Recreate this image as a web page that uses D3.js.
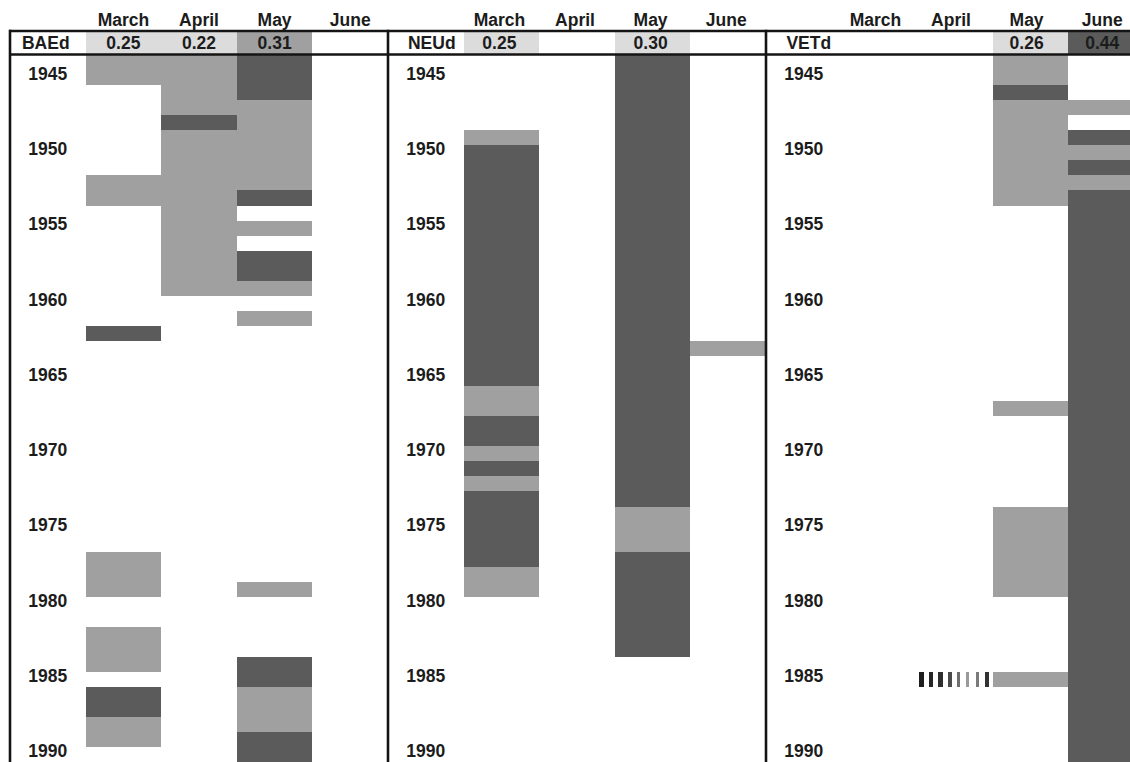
<!DOCTYPE html>
<html>
<head>
<meta charset="utf-8">
<script src="https://cdn.jsdelivr.net/npm/d3@7"></script>
<style>
  html, body { margin: 0; padding: 0; background: #fff; overflow: hidden; }
  text { font-family: "Liberation Sans", Arial, Helvetica, sans-serif; font-weight: bold; fill: #1c1c1c; }
  rect { shape-rendering: crispEdges; }
</style>
</head>
<body>
<div class="chart"></div>
<script>
/* data */
const months = ['March', 'April', 'May', 'June'];
const stations = ['BAEd', 'NEUd', 'VETd'];
// header values per station (null = empty cell)
const baedHeader = [0.25, 0.22, 0.31, null];
const neudHeader = [0.25, null, 0.30, null];
const vetdHeader = [null, null, 0.26, 0.44];
const yearTicks = [1945, 1950, 1955, 1960, 1965, 1970, 1975, 1980, 1985, 1990];
const firstYear = 1944, lastYear = 1990;

// runs: [month, from year, to year (inclusive), kind]  L = light, D = dark, H = hatched
const baedRuns = [
  ['March', 1944, 1945, 'L'], ['March', 1952, 1953, 'L'], ['March', 1962, 1962, 'D'],
  ['March', 1977, 1979, 'L'], ['March', 1982, 1984, 'L'], ['March', 1986, 1987, 'D'],
  ['March', 1988, 1989, 'L'],
  ['April', 1944, 1947, 'L'], ['April', 1948, 1948, 'D'], ['April', 1949, 1959, 'L'],
  ['May', 1944, 1946, 'D'], ['May', 1947, 1952, 'L'], ['May', 1953, 1953, 'D'],
  ['May', 1955, 1955, 'L'], ['May', 1957, 1958, 'D'], ['May', 1959, 1959, 'L'],
  ['May', 1961, 1961, 'L'], ['May', 1979, 1979, 'L'], ['May', 1984, 1985, 'D'],
  ['May', 1986, 1988, 'L'], ['May', 1989, 1990, 'D']
];
const neudRuns = [
  ['March', 1949, 1949, 'L'], ['March', 1950, 1965, 'D'], ['March', 1966, 1967, 'L'],
  ['March', 1968, 1969, 'D'], ['March', 1970, 1970, 'L'], ['March', 1971, 1971, 'D'],
  ['March', 1972, 1972, 'L'], ['March', 1973, 1977, 'D'], ['March', 1978, 1979, 'L'],
  ['May', 1944, 1973, 'D'], ['May', 1974, 1976, 'L'], ['May', 1977, 1983, 'D'],
  ['June', 1963, 1963, 'L']
];
const vetdRuns = [
  ['April', 1985, 1985, 'H'],
  ['May', 1944, 1945, 'L'], ['May', 1946, 1946, 'D'], ['May', 1947, 1953, 'L'],
  ['May', 1967, 1967, 'L'], ['May', 1974, 1979, 'L'], ['May', 1985, 1985, 'L'],
  ['June', 1947, 1947, 'L'], ['June', 1949, 1949, 'D'], ['June', 1950, 1950, 'L'],
  ['June', 1951, 1951, 'D'], ['June', 1952, 1952, 'L'], ['June', 1953, 1990, 'D']
];

const headers = [baedHeader, neudHeader, vetdHeader];
const runs = [baedRuns, neudRuns, vetdRuns];

/* layout */
const width = 1130, height = 762;
const left = 10;            // left border
const panelW = 378;         // width of one station panel
const headTop = 31, headBottom = 54.5;
const rowH = 15.05;
const fontSize = 17.5;
const textShift = [0, -2, -4];   // month / value text drifts slightly per panel
const nameShift = [-2, 6, 5];

const barColor = { L: '#a0a0a0', D: '#5b5b5b' };
const headColor = d3.scaleThreshold().domain([0.305, 0.4]).range(['#dcdcdc', '#a0a0a0', '#5b5b5b']);

const y = d3.scaleLinear()
  .domain([firstYear, lastYear + 1])
  .range([55, 55 + rowH * (lastYear + 1 - firstYear)]);

const x = d3.scaleBand()
  .domain(['label'].concat(months))
  .range([0, panelW])
  .padding(0);

const svg = d3.select('.chart')
  .append('svg')
  .attr('width', width)
  .attr('height', height);

stations.forEach((name, p) => {
  const g = svg.append('g')
    .attr('transform', `translate(${left + p * panelW}, 0)`);

  // bars
  g.selectAll('rect.bar')
    .data(runs[p].filter(r => r[3] !== 'H'))
    .join('rect')
    .attr('class', 'bar')
    .attr('x', d => x(d[0]))
    .attr('width', x.bandwidth())
    .attr('y', d => y(d[1]))
    .attr('height', d => y(d[2] + 1) - y(d[1]))
    .attr('fill', d => barColor[d[3]]);

  // hatched cells (striped)
  const stripeGray = ['#1e1e1e', '#262626', '#2e2e2e', '#4a4a4a', '#6e6e6e', '#9a9a9a', '#7a7a7a', '#333'];
  const stripeW = [5, 4.6, 4.6, 4, 3.4, 2.8, 2.8, 3.6];
  runs[p].filter(r => r[3] === 'H').forEach(r => {
    g.selectAll(null)
      .data(d3.range(8))
      .join('rect')
      .attr('x', i => x(r[0]) + 2 + i * x.bandwidth() / 8)
      .attr('width', i => stripeW[i])
      .attr('y', y(r[1]))
      .attr('height', y(r[2] + 1) - y(r[1]))
      .attr('fill', i => stripeGray[i]);
  });

  // header cells
  const hv = headers[p].map((v, i) => ({ month: months[i], v })).filter(d => d.v !== null);
  g.selectAll('rect.head')
    .data(hv)
    .join('rect')
    .attr('class', 'head')
    .attr('x', d => x(d.month))
    .attr('width', x.bandwidth())
    .attr('y', headTop)
    .attr('height', headBottom - headTop)
    .attr('fill', d => headColor(d.v));

  g.selectAll('text.val')
    .data(hv)
    .join('text')
    .attr('class', 'val')
    .attr('x', d => x(d.month) + x.bandwidth() / 2 + textShift[p])
    .attr('y', 49)
    .attr('text-anchor', 'middle')
    .style('font-size', fontSize + 'px')
    .text(d => d.v.toFixed(2));

  // month names
  g.selectAll('text.month')
    .data(months)
    .join('text')
    .attr('class', 'month')
    .attr('x', d => x(d) + x.bandwidth() / 2 + textShift[p])
    .attr('y', 26)
    .attr('text-anchor', 'middle')
    .style('font-size', fontSize + 'px')
    .text(d => d);

  // station name
  g.append('text')
    .attr('x', x.bandwidth() / 2 + nameShift[p])
    .attr('y', 49)
    .attr('text-anchor', 'middle')
    .style('font-size', fontSize + 'px')
    .text(name);

  // year labels
  g.selectAll('text.year')
    .data(yearTicks)
    .join('text')
    .attr('class', 'year')
    .attr('x', x.bandwidth() / 2)
    .attr('y', d => y(d) + 9.8)
    .attr('text-anchor', 'middle')
    .style('font-size', fontSize + 'px')
    .text(d => d);
});

// frame lines
const lineColor = '#141414';
[headTop, headBottom].forEach(yy => {
  svg.append('line')
    .attr('x1', left - 1).attr('x2', width)
    .attr('y1', yy).attr('y2', yy)
    .attr('stroke', lineColor).attr('stroke-width', 2.4);
});
d3.range(stations.length + 1).forEach(p => {
  svg.append('line')
    .attr('x1', left + p * panelW).attr('x2', left + p * panelW)
    .attr('y1', headTop - 1.2).attr('y2', height)
    .attr('stroke', lineColor).attr('stroke-width', 2.6);
});
</script>
</body>
</html>
